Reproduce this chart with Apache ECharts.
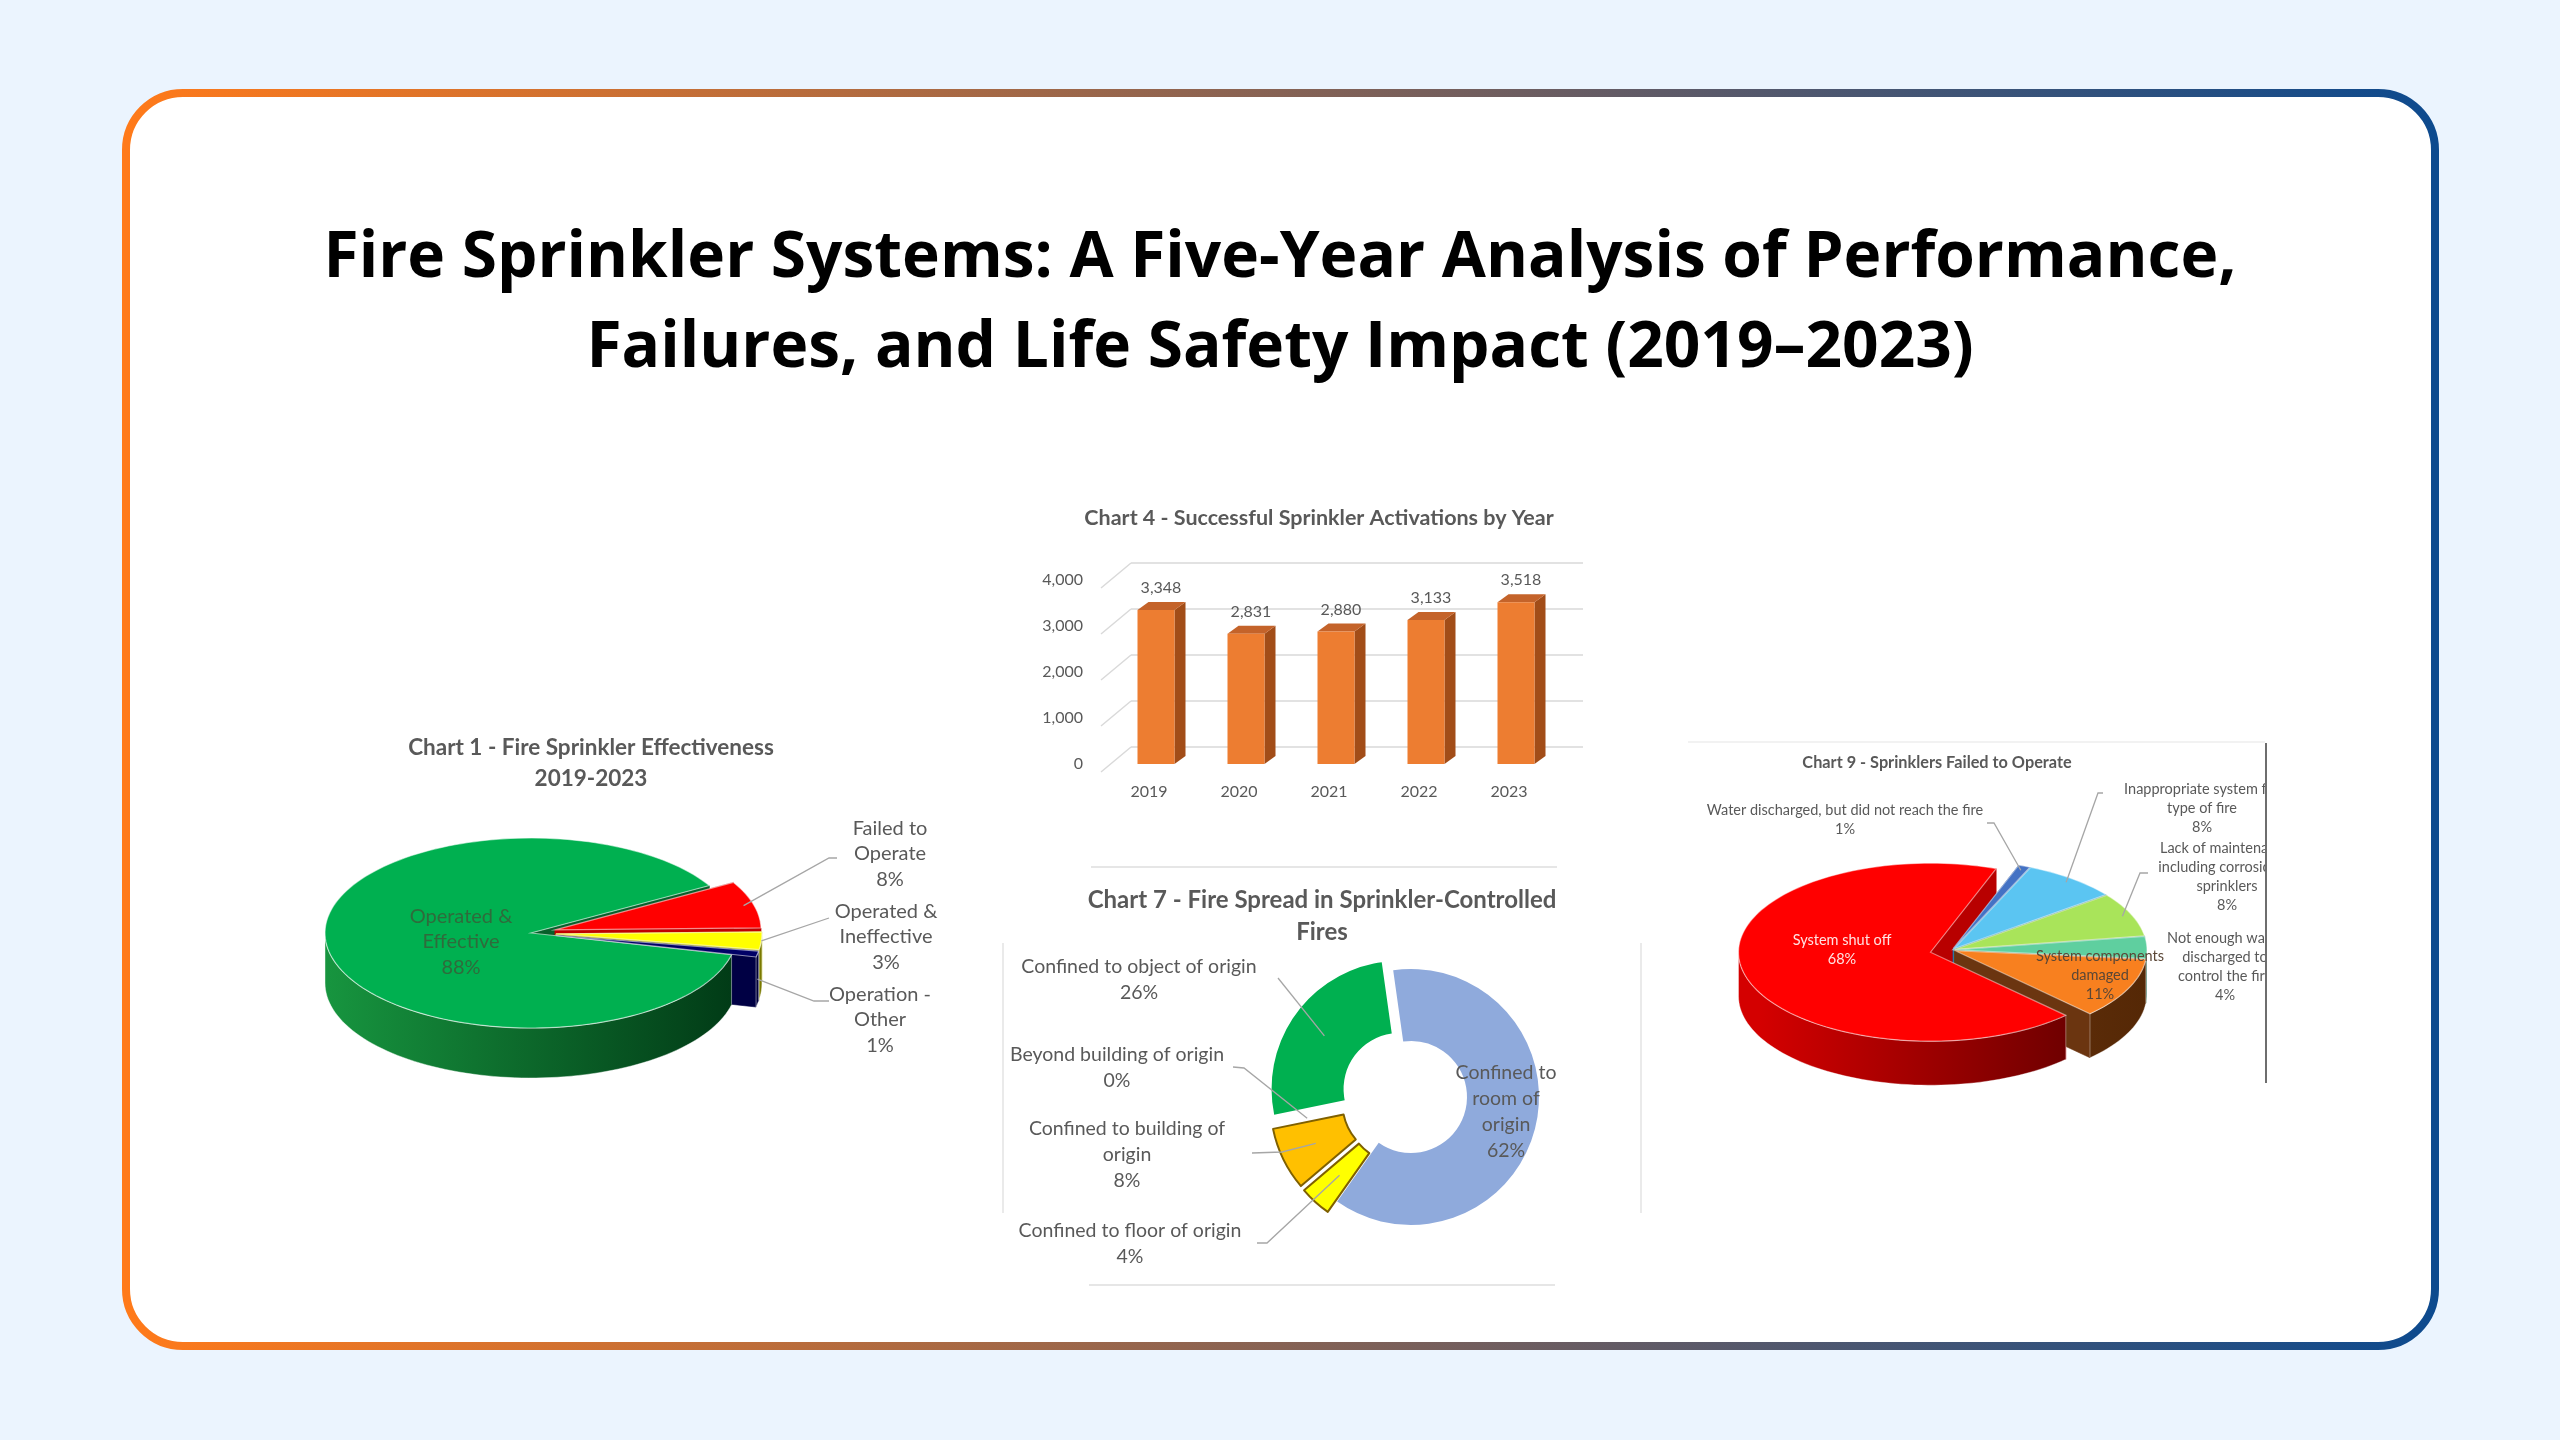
<!DOCTYPE html>
<html lang="en">
<head>
<meta charset="UTF-8">
<title>Fire Sprinkler Systems: A Five-Year Analysis (2019–2023)</title>
<script src="https://cdn.jsdelivr.net/npm/echarts@6.0.0/dist/echarts.min.js"></script>
<style>
  html, body { margin: 0; padding: 0; background: #EBF4FE; }
  #main { width: 2560px; height: 1440px; }
</style>
</head>
<body>
<div id="main"></div>
<script>
// ---- data ----
var effNames = ['Operated & Effective', 'Failed to Operate', 'Operated & Ineffective', 'Operation - Other'];
var effLabels = ['Operated &\nEffective', 'Failed to\nOperate', 'Operated &\nIneffective', 'Operation -\nOther'];
var effValues = [88, 8, 3, 1];

var years = ['2019', '2020', '2021', '2022', '2023'];
var activations = [3348, 2831, 2880, 3133, 3518];
var yTicks = [0, 1000, 2000, 3000, 4000];

var spreadNames = ['Confined to room of origin', 'Confined to floor of origin', 'Confined to building of origin',
  'Beyond building of origin', 'Confined to object of origin'];
var spreadLabels = ['Confined to\nroom of\norigin', 'Confined to floor of origin', 'Confined to building of\norigin',
  'Beyond building of origin', 'Confined to object of origin'];
var spreadValues = [62, 4, 8, 0, 26];

var failNames = ['System shut off', 'Water discharged, but did not reach the fire', 'Inappropriate system for type of fire',
  'Lack of maintenance, including corrosion of sprinklers', 'Not enough water discharged to control the fire',
  'System components damaged'];
var failLabels = ['System shut off', 'Water discharged, but did not reach the fire', 'Inappropriate system for\ntype of fire',
  'Lack of maintenance,\nincluding corrosion of\nsprinklers', 'Not enough water\ndischarged to\ncontrol the fire',
  'System components\ndamaged'];
var failValues = [68, 1, 8, 8, 4, 11];

var grey = '#595959';
var rad = Math.PI / 180;

function withCommas(v) {
  return String(v).replace(/\B(?=(\d{3})+(?!\d))/g, ',');
}

// tilted (Excel-style) 3D pie drawn as a custom series
function pie3D(p) {
  var total = 0;
  p.values.forEach(function (v) { total += v; });
  var starts = [];
  var acc = p.start;
  p.values.forEach(function (v) { starts.push(acc); acc -= v / total * 360; });
  var wallFill = p.walls.map(function (w) {
    return new echarts.graphic.LinearGradient(p.cx - p.rx, 0, p.cx + p.rx, 0,
      [{offset: 0, color: w[0]}, {offset: 1, color: w[1]}], true);
  });
  return {
    type: 'custom',
    name: p.name,
    coordinateSystem: 'none',
    silent: true,
    z: 3,
    data: p.values.map(function (v, i) { return {name: p.names[i], value: v}; }),
    renderItem: function (params, api) {
      var i = params.dataIndex;
      var a0 = starts[i];
      var a1 = a0 - api.value(0) / total * 360;
      var midDeg = (a0 + a1) / 2;
      var ex = p.explode[i];
      var ox = p.cx + ex * Math.cos(midDeg * rad);
      var oy = p.cy - ex * Math.sin(midDeg * rad) * p.ry / p.rx;
      var d = p.depth;
      function pt(a, f, dy) {
        return [ox + f * p.rx * Math.cos(a * rad), oy - f * p.ry * Math.sin(a * rad) + dy];
      }
      function arc(from, to, dy) {
        var n = Math.max(2, Math.ceil(Math.abs(to - from) / 2));
        var pts = [];
        for (var k = 0; k <= n; k++) pts.push(pt(from + (to - from) * k / n, 1, dy));
        return pts;
      }
      var kids = [];
      // cut faces
      [a0, a1].forEach(function (a) {
        var e = pt(a, 1, 0);
        kids.push({
          type: 'polygon', z2: 1,
          shape: {points: [[ox, oy], e, [e[0], e[1] + d], [ox, oy + d]]},
          style: {fill: p.faces[i], stroke: p.faces[i], lineWidth: 0.6}
        });
      });
      // outer wall, front half only
      for (var k = -2; k <= 1; k++) {
        var lo = Math.max(a1, -180 + 360 * k);
        var hi = Math.min(a0, 360 * k);
        if (hi > lo) {
          var top = arc(lo, hi, 0);
          var bot = arc(lo, hi, d).reverse();
          kids.push({
            type: 'polygon', z2: 2,
            shape: {points: top.concat(bot)},
            style: {fill: wallFill[i], stroke: p.edge, lineWidth: 0.8}
          });
        }
      }
      // top face
      kids.push({
        type: 'polygon', z2: 3,
        shape: {points: [[ox, oy]].concat(arc(a0, a1, 0))},
        style: {fill: p.colors[i], stroke: p.edge, lineWidth: 1.2}
      });
      // leader line
      if (p.leader[i]) {
        var s = p.leaderStart[i];
        kids.push({
          type: 'polyline', z2: 4,
          shape: {points: [pt(midDeg, s[0], s[1])].concat(p.leader[i])},
          style: {stroke: '#A6A6A6', lineWidth: 1.3, fill: null}
        });
      }
      // label
      var pos = p.labelPos[i];
      kids.push({
        type: 'text', z2: 5, x: pos[0], y: pos[1],
        style: {
          text: p.labels[i] + '\n' + api.value(0) + '%',
          fill: p.labelColor[i], fontSize: p.fontSize, fontFamily: 'Lato',
          lineHeight: p.lineHeight, align: 'center', verticalAlign: 'middle'
        }
      });
      return {type: 'group', children: kids};
    }
  };
}

var effPie = pie3D({
  name: 'Fire Sprinkler Effectiveness',
  names: effNames, values: effValues, labels: effLabels,
  cx: 531, cy: 933, rx: 206, ry: 95, depth: 50, start: -13.2,
  explode: [0, 25, 25, 25],
  colors: ['#00B050', '#FF0000', '#FFFF00', '#000066'],
  walls: [['#17953F', '#013A16'], ['#C00000', '#7A0000'], ['#B5B500', '#7A7A00'], ['#000058', '#00003A']],
  faces: ['#07602A', '#C00000', '#BFBF00', '#000044'],
  edge: 'rgba(255,255,255,0.55)',
  labelPos: [[461, 942], [890, 854], [886, 937], [880, 1020]],
  labelColor: ['#2F6B3C', grey, grey, grey],
  leader: [null, [[829, 858], [837, 858]], [[829, 918]], [[814, 1001], [829, 1001]]],
  leaderStart: [[0, 0], [0.95, 0], [1, 0], [1, 25]],
  fontSize: 20, lineHeight: 25.5
});

var failPie = pie3D({
  name: 'Sprinklers Failed to Operate',
  names: failNames, values: failValues, labels: failLabels,
  cx: 1952, cy: 950, rx: 192, ry: 89, depth: 44, start: -45.2,
  explode: [22, 3, 3, 3, 3, 3],
  colors: ['#FF0000', '#4472C4', '#5BC5F2', '#A9E45A', '#5FCF9F', '#F8801F'],
  walls: [['#D40000', '#560000'], ['#2F5597', '#1F3864'], ['#3A9CC4', '#21607A'], ['#7FB33F', '#4D6E24'],
    ['#3FA07A', '#23614A'], ['#7A3E12', '#552806']],
  faces: ['#B80000', '#2F5597', '#2E86AB', '#6F9E35', '#359070', '#6B3510'],
  edge: 'rgba(255,255,255,0.45)',
  labelPos: [[1842, 950], [1845, 820], [2202, 808], [2227, 877], [2225, 967], [2100, 975]],
  labelColor: ['#FFE2E2', grey, grey, grey, grey, '#5A4636'],
  leader: [null, [[1994, 823], [1987, 823]], [[2098, 793], [2103, 793]], [[2140, 873], [2148, 873]], null, null],
  leaderStart: [[0, 0], [0.95, 0], [0.95, 0], [0.95, 0], [0, 0], [0, 0]],
  fontSize: 14.5, lineHeight: 19
});

// donut (chart 7) layout
var spreadCenter = [1411, 1097];
var spreadRadius = [56, 128];
var spreadStart = 98;
var spreadOffset = 14;
var spreadColors = ['#8FAADC', '#FFFF00', '#FFC000', '#FF6600', '#00B050'];
var spreadBorders = ['#FFFFFF', '#7F6000', '#7F6000', '#FFFFFF', '#FFFFFF'];
var spreadOut = [false, true, true, true, true];
var spreadLabelPos = [[1506, 1112], [1130, 1244], [1127, 1155], [1117, 1068], [1139, 980]];
var spreadLeader = [null, [[1267, 1243], [1257, 1243]], [[1282, 1152], [1252, 1153]], [[1244, 1068], [1233, 1067]], [[1278, 978]]];

var spreadTotal = 0;
spreadValues.forEach(function (v) { spreadTotal += v; });
var spreadStarts = [];
(function () {
  var acc = spreadStart;
  spreadValues.forEach(function (v) { spreadStarts.push(acc); acc -= v / spreadTotal * 360; });
})();

var chart = echarts.init(document.getElementById('main'));

var cardStroke = new echarts.graphic.LinearGradient(126, 0, 2435, 0,
  [{offset: 0, color: '#FF7A1A'}, {offset: 1, color: '#0D4A8E'}], true);

var option = {
  backgroundColor: '#EBF4FE',
  animation: false,
  textStyle: {fontFamily: 'Lato'},
  title: [
    {
      text: 'Fire Sprinkler Systems: A Five-Year Analysis of Performance,\nFailures, and Life Safety Impact (2019–2023)',
      left: 'center', top: 214, padding: 0,
      textStyle: {fontFamily: 'Open Sans', fontWeight: 700, fontSize: 64, lineHeight: 90, color: '#000000'}
    },
    {
      text: 'Chart 1 - Fire Sprinkler Effectiveness\n2019-2023',
      left: 591, top: 732, padding: 0, textAlign: 'center',
      textStyle: {fontFamily: 'Lato', fontWeight: 700, fontSize: 22.5, lineHeight: 31, color: grey}
    },
    {
      text: 'Chart 4 - Successful Sprinkler Activations by Year',
      left: 1319, top: 505, padding: 0, textAlign: 'center',
      textStyle: {fontFamily: 'Lato', fontWeight: 700, fontSize: 21.5, lineHeight: 26, color: grey}
    },
    {
      text: 'Chart 7 - Fire Spread in Sprinkler-Controlled\nFires',
      left: 1322, top: 884, padding: 0, textAlign: 'center',
      textStyle: {fontFamily: 'Lato', fontWeight: 700, fontSize: 24, lineHeight: 32, color: grey}
    },
    {
      text: 'Chart 9 - Sprinklers Failed to Operate',
      left: 1937, top: 753, padding: 0, textAlign: 'center',
      textStyle: {fontFamily: 'Lato', fontWeight: 700, fontSize: 16.3, lineHeight: 20, color: grey}
    }
  ],
  graphic: [
    {
      type: 'rect', z: -1, silent: true,
      shape: {x: 126, y: 93, width: 2309, height: 1253, r: 57},
      style: {fill: '#FFFFFF', stroke: cardStroke, lineWidth: 8}
    },
    // faint frame round chart 7
    {type: 'line', z: 1, silent: true, shape: {x1: 1091, y1: 867, x2: 1557, y2: 867}, style: {stroke: '#E6E6E6', lineWidth: 2}},
    {type: 'line', z: 1, silent: true, shape: {x1: 1003, y1: 943, x2: 1003, y2: 1213}, style: {stroke: '#EAEAEA', lineWidth: 2}},
    {type: 'line', z: 1, silent: true, shape: {x1: 1641, y1: 943, x2: 1641, y2: 1213}, style: {stroke: '#EAEAEA', lineWidth: 2}},
    {type: 'line', z: 1, silent: true, shape: {x1: 1089, y1: 1285, x2: 1555, y2: 1285}, style: {stroke: '#E6E6E6', lineWidth: 2}},
    // chart 9 crop edge
    {type: 'line', z: 1, silent: true, shape: {x1: 1688, y1: 742, x2: 2265, y2: 742}, style: {stroke: '#F2F2F2', lineWidth: 2}},
    {
      type: 'rect', z: 50, silent: true,
      shape: {x: 2267, y: 745, width: 160, height: 345},
      style: {fill: '#FFFFFF'}
    },
    {type: 'line', z: 51, silent: true, shape: {x1: 2266, y1: 743, x2: 2266, y2: 1083}, style: {stroke: '#6E6E6E', lineWidth: 2}}
  ],
  grid: {left: 1111, top: 580, width: 450, height: 184, outerBoundsMode: 'none'},
  xAxis: {
    type: 'category', data: years,
    axisLine: {show: false}, axisTick: {show: false},
    axisLabel: {color: grey, fontSize: 16, fontFamily: 'Lato', margin: 20, padding: [0, 14, 0, 0]}
  },
  yAxis: {
    type: 'value', min: 0, max: 4000, interval: 1000,
    axisLine: {show: false}, axisTick: {show: false}, splitLine: {show: false},
    axisLabel: {
      color: grey, fontSize: 16, fontFamily: 'Lato', margin: 28, padding: [16, 0, 0, 0],
      formatter: function (v) { return withCommas(v); }
    }
  },
  series: [
    {
      type: 'custom', name: 'back wall', silent: true, z: 1,
      data: yTicks.map(function (v) { return [0, v]; }),
      renderItem: function (params, api) {
        var cs = params.coordSys;
        var y = api.coord([0, api.value(1)])[1];
        return {
          type: 'group',
          children: [
            {type: 'line', shape: {x1: cs.x - 10, y1: y + 8, x2: cs.x + 20, y2: y - 17}, style: {stroke: '#D9D9D9', lineWidth: 1.4}},
            {type: 'line', shape: {x1: cs.x + 20, y1: y - 17, x2: cs.x + cs.width + 22, y2: y - 17}, style: {stroke: '#D9D9D9', lineWidth: 1.4}}
          ]
        };
      }
    },
    {
      type: 'bar', name: 'Successful activations', data: activations, barWidth: 37, z: 2, silent: true,
      itemStyle: {color: '#ED7D31'},
      label: {
        show: true, position: 'top', distance: 14, offset: [5, 0],
        color: grey, fontSize: 16, fontFamily: 'Lato',
        formatter: function (p) { return withCommas(p.value); }
      }
    },
    {
      type: 'custom', name: 'bar depth', silent: true, z: 2,
      data: activations.map(function (v, i) { return [i, v]; }),
      renderItem: function (params, api) {
        var top = api.coord([api.value(0), api.value(1)]);
        var base = api.coord([api.value(0), 0]);
        var w = 37, dx = 11, dy = 8;
        var l = top[0] - w / 2, r = top[0] + w / 2;
        return {
          type: 'group',
          children: [
            {type: 'polygon', shape: {points: [[r, top[1]], [r + dx, top[1] - dy], [r + dx, base[1] - dy], [r, base[1]]]}, style: {fill: '#A24D18'}},
            {type: 'polygon', shape: {points: [[l, top[1]], [l + dx, top[1] - dy], [r + dx, top[1] - dy], [r, top[1]]]}, style: {fill: '#C4632A'}}
          ]
        };
      }
    },
    {
      type: 'pie', name: 'Fire spread', silent: true,
      center: spreadCenter, radius: spreadRadius,
      startAngle: spreadStart, clockwise: true,
      selectedMode: 'multiple', selectedOffset: spreadOffset,
      emphasis: {disabled: true},
      label: {show: false}, labelLine: {show: false},
      data: spreadNames.map(function (n, i) {
        return {
          name: n, value: spreadValues[i], selected: spreadOut[i],
          itemStyle: {color: spreadColors[i], borderColor: spreadBorders[i], borderWidth: i === 1 || i === 2 ? 2 : 0}
        };
      })
    },
    {
      // labels and leader lines of the donut, placed the way the source chart has them
      type: 'custom', name: 'Fire spread labels', coordinateSystem: 'none', silent: true, z: 5,
      data: spreadValues.map(function (v, i) { return {name: spreadNames[i], value: v}; }),
      renderItem: function (params, api) {
        var i = params.dataIndex;
        var a0 = spreadStarts[i];
        var a1 = a0 - api.value(0) / spreadTotal * 360;
        var m = (a0 + a1) / 2 * rad;
        var rMid = (spreadRadius[0] + spreadRadius[1]) / 2 + (spreadOut[i] ? spreadOffset : 0);
        var inner = [spreadCenter[0] + rMid * Math.cos(m), spreadCenter[1] - rMid * Math.sin(m)];
        var kids = [];
        if (spreadLeader[i]) {
          kids.push({
            type: 'polyline',
            shape: {points: [inner].concat(spreadLeader[i])},
            style: {stroke: '#A6A6A6', lineWidth: 1.3, fill: null}
          });
        }
        var pos = spreadLabelPos[i];
        kids.push({
          type: 'text', x: pos[0], y: pos[1],
          style: {
            text: spreadLabels[i] + '\n' + api.value(0) + '%',
            fill: grey, fontSize: 19.5, fontFamily: 'Lato', lineHeight: 26,
            align: 'center', verticalAlign: 'middle'
          }
        });
        return {type: 'group', children: kids};
      }
    },
    effPie,
    failPie
  ]
};

chart.setOption(option);
</script>
</body>
</html>
